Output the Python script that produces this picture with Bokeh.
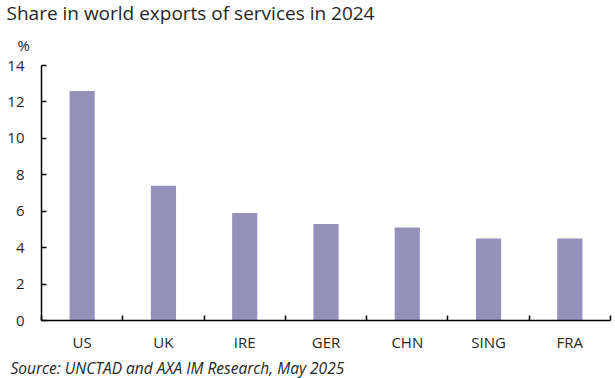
from bokeh.plotting import figure
from bokeh.models import FixedTicker, Range1d, Title
from bokeh.embed import file_html
from bokeh.resources import INLINE

categories = ["US", "UK", "IRE", "GER", "CHN", "SING", "FRA"]
shares = [12.6, 7.4, 5.9, 5.3, 5.1, 4.5, 4.5]
y_ticks = [0, 2, 4, 6, 8, 10, 12, 14]

FONT = "Open Sans"
TXT = "#262626"
W, H = 613, 378
LEFT, TOP, BOTTOM = 41, 65, 320

xs = [i + 0.5 for i in range(len(categories))]

p = figure(width=W, height=H, output_backend="svg", toolbar_location=None,
           x_range=Range1d(0, len(categories)), y_range=Range1d(0, 14),
           min_border_left=LEFT, min_border_right=3, min_border_top=TOP,
           min_border_bottom=H - BOTTOM)
p.outline_line_color = None
p.grid.grid_line_color = None
p.background_fill_color = "white"

p.vbar(x=xs, top=shares, width=0.31, fill_color="#9491BB", line_color=None)

xa = p.xaxis[0]
xa.ticker = FixedTicker(ticks=xs, minor_ticks=list(range(len(categories) + 1)))
xa.major_label_overrides = {x: c for x, c in zip(xs, categories)}
xa.major_tick_in = 0
xa.major_tick_out = 0
xa.minor_tick_in = 5
xa.minor_tick_out = 0
xa.minor_tick_line_color = "black"
xa.minor_tick_line_width = 1.5
xa.axis_line_width = 1.5
xa.major_label_standoff = 11

ya = p.yaxis[0]
ya.ticker = FixedTicker(ticks=y_ticks)
ya.major_tick_in = 5
ya.major_tick_out = 0
ya.major_tick_line_width = 1.5
ya.minor_tick_line_color = None
ya.axis_line_width = 1.5
ya.major_label_standoff = 17

for ax in (xa, ya):
    ax.major_label_text_font = FONT
    ax.major_label_text_font_size = "15px"
    ax.major_label_text_color = TXT
    ax.axis_line_color = "black"
    ax.major_tick_line_color = "black"

p.title.text = "Share in world exports of services in 2024"
p.title.text_font = FONT
p.title.text_font_size = "19px"
p.title.text_font_style = "normal"
p.title.text_color = TXT
p.title.align = "left"
p.title.offset = -35
p.title.standoff = -6

p.add_layout(Title(text="%", text_font=FONT, text_font_size="15px",
                   text_font_style="normal", text_color=TXT, align="left",
                   offset=-24, standoff=21), "above")

p.add_layout(Title(text="Source: UNCTAD and AXA IM Research, May 2025",
                   text_font=FONT, text_font_size="15.5px", text_font_style="italic",
                   text_color=TXT, align="left", offset=-31, standoff=0), "below")

open("out.html", "w").write(file_html(p, INLINE))
